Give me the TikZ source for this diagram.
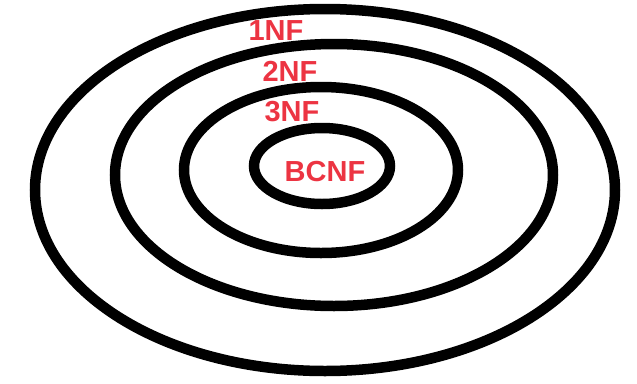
\documentclass[tikz,border=0pt]{standalone}
\usepackage{fontspec}
\setmainfont{Liberation Sans}
\usepackage{tikz}
\usetikzlibrary{positioning}
\definecolor{nfred}{RGB}{236,52,66}

\begin{document}
\begin{tikzpicture}[
    x=0.02cm,
    y=-0.02cm,
    ring/.style={
        draw=black,
        line width=0.21cm
    },
    nflabel/.style={
        text=nfred,
        font=\fontsize{16.5}{16.5}\selectfont\bfseries,
        inner sep=0pt
    }
]

% -----------------------------------------------------
% Ramme
% -----------------------------------------------------

\useasboundingbox (0,0) rectangle (637,383);

% -----------------------------------------------------
% Ringe
% -----------------------------------------------------

\draw[ring] (325,190) ellipse [x radius=290, y radius=181];
\draw[ring] (334,175) ellipse [x radius=219, y radius=131];
\draw[ring] (321,170) ellipse [x radius=137, y radius=83];
\draw[ring] (322,166) ellipse [x radius=68, y radius=38];

% -----------------------------------------------------
% Tekster
% -----------------------------------------------------

\node[nflabel] (nf1) at (276,31) {1NF};
\node[nflabel] (nf2) at (290,71) {2NF};
\node[nflabel] (nf3) at (292,112) {3NF};
\node[nflabel] (bcnf) at (325,172) {BCNF};

\end{tikzpicture}
\end{document}
